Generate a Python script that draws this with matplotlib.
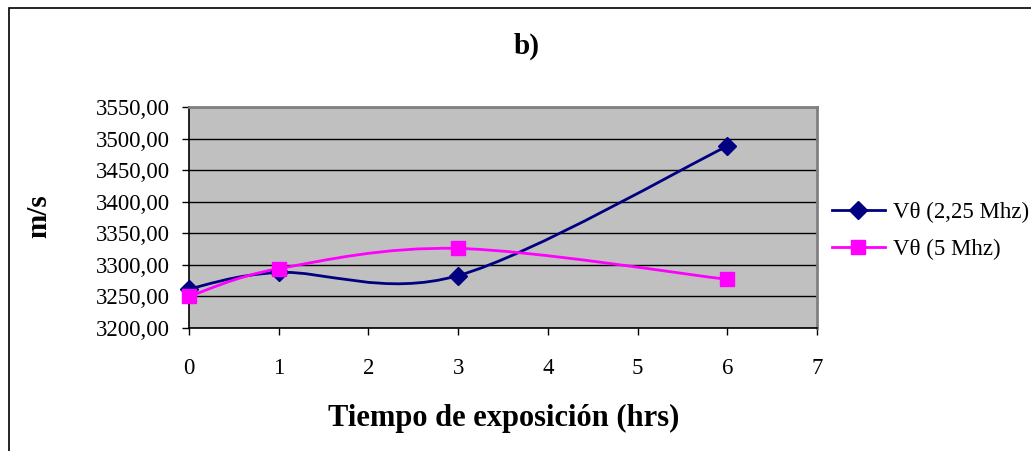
import matplotlib
matplotlib.use("Agg")
import matplotlib.pyplot as plt
from matplotlib.path import Path
from matplotlib.patches import PathPatch, Rectangle
from matplotlib.lines import Line2D
from matplotlib.ticker import FuncFormatter, MultipleLocator

# Exposure time (hours) and measured velocities (m/s)
hours = [0, 1, 3, 6]
v_225 = [3262, 3288, 3283, 3488]
v_5 = [3250, 3294, 3326, 3277]
series_labels = ["V\u03b8 (2,25 Mhz)", "V\u03b8 (5 Mhz)"]
title = "b)"
xlabel = "Tiempo de exposición (hrs)"
ylabel = "m/s"

NAVY = "#000080"
MAGENTA = "#FF00FF"
SERIF = ["Liberation Serif", "DejaVu Serif"]

plt.rcParams["font.family"] = SERIF

W, H = 1031, 451
fig = plt.figure(figsize=(W / 100, H / 100), dpi=100)
ax = fig.add_axes([189 / W, 1 - 328 / H, (817 - 189) / W, (328 - 107) / H])


def smooth_path(xs, ys):
    """Bezier path through the points with Catmull-Rom style tangents."""
    pts = list(zip(xs, ys))
    n = len(pts)
    verts = [pts[0]]
    codes = [Path.MOVETO]
    for i in range(n - 1):
        p0 = pts[i - 1] if i > 0 else pts[i]
        p1 = pts[i]
        p2 = pts[i + 1]
        p3 = pts[i + 2] if i + 2 < n else pts[i + 1]
        c1 = (p1[0] + (p2[0] - p0[0]) / 6, p1[1] + (p2[1] - p0[1]) / 6)
        c2 = (p2[0] - (p3[0] - p1[0]) / 6, p2[1] - (p3[1] - p1[1]) / 6)
        verts += [c1, c2, p2]
        codes += [Path.CURVE4] * 3
    return Path(verts, codes)


ax.set_facecolor("#C0C0C0")
ax.set_xlim(0, 7)
ax.set_ylim(3200, 3550)
ax.yaxis.set_major_locator(MultipleLocator(50))
ax.xaxis.set_major_locator(MultipleLocator(1))
ax.yaxis.set_major_formatter(FuncFormatter(lambda v, p: f"{v:.2f}".replace(".", ",")))
ax.xaxis.set_major_formatter(FuncFormatter(lambda v, p: f"{int(v)}"))
ax.grid(axis="y", color="black", linewidth=1)
ax.set_axisbelow(True)

for s in ("top", "right"):
    ax.spines[s].set_color("#808080")
    ax.spines[s].set_linewidth(2)
for s in ("left", "bottom"):
    ax.spines[s].set_color("black")
    ax.spines[s].set_linewidth(1.2)

ax.tick_params(axis="both", direction="out", length=5, width=1, color="black",
               labelsize=16.5)
ax.tick_params(axis="y", pad=9)
ax.tick_params(axis="x", pad=16.5)

ax.add_patch(PathPatch(smooth_path(hours, v_225), fill=False, edgecolor=NAVY,
                       linewidth=2, zorder=3))
ax.add_patch(PathPatch(smooth_path(hours, v_5), fill=False, edgecolor=MAGENTA,
                       linewidth=2, zorder=3))
ax.plot(hours, v_225, linestyle="none", marker="D", markersize=9, color=NAVY,
        zorder=4, clip_on=False)
ax.plot(hours, v_5, linestyle="none", marker="s", markersize=10.5, color=MAGENTA,
        zorder=5, clip_on=False)

handles = [
    Line2D([], [], color=NAVY, linewidth=2, marker="D", markersize=9),
    Line2D([], [], color=MAGENTA, linewidth=2, marker="s", markersize=10.5),
]
fig.legend(handles, series_labels, loc="upper left",
           bbox_to_anchor=(832 / W, 1 - 202 / H), frameon=False,
           fontsize=16.5, handlelength=2.3, handletextpad=0.35,
           labelspacing=0.7, borderpad=0, borderaxespad=0)

fig.text(527 / W, 1 - 46 / H, title, ha="center", va="center",
         fontsize=21, fontweight="bold")
fig.text(504 / W, 1 - 418 / H, xlabel, ha="center", va="center",
         fontsize=22, fontweight="bold")
fig.text(39 / W, 1 - 216 / H, ylabel, ha="center", va="center",
         rotation=90, fontsize=21, fontweight="bold")

# Chart-area border
fig.patches.append(Rectangle((9 / W, -0.2), 1.2, 1 - 8 / H + 0.2,
                             transform=fig.transFigure, fill=False,
                             edgecolor="black", linewidth=1.2))

fig.savefig("out.png", dpi=100)
